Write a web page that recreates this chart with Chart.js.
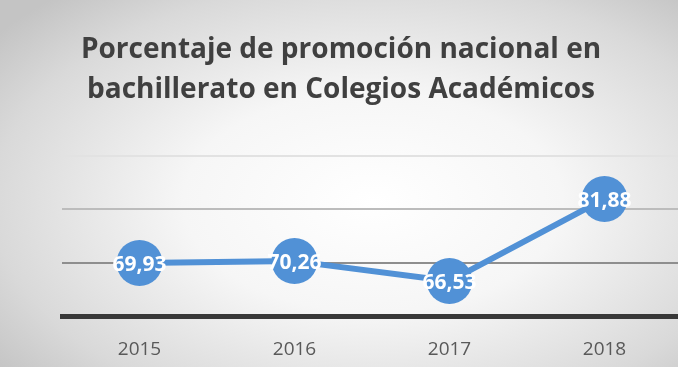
<!DOCTYPE html>
<html>
<head>
<meta charset="utf-8">
<script src="https://cdn.jsdelivr.net/npm/chart.js@4"></script>
<style>
    html, body {
        margin: 0;
        padding: 0;
        overflow: hidden;
        width: 678px;
        height: 367px;
    }
    body {
        background: radial-gradient(ellipse 70% 75% at 55% 55%, #ffffff 0%, #f6f6f6 40%, #d9d9d9 80%, #c4c4c4 100%);
    }
    #wrap {
        position: relative;
        width: 684px;
        height: 367px;
    }
</style>
</head>
<body>
<div id="wrap">
    <canvas id="promoChart"></canvas>
</div>
<script>
// Chart data
const years = ['2015', '2016', '2017', '2018'];
const promotion = [69.93, 70.26, 66.53, 81.88];
const titleLines = ['Porcentaje de promoción nacional en', 'bachillerato en Colegios Académicos'];

const blue = '#5191d6';

// White value labels drawn on top of each marker
const valueLabels = {
    id: 'valueLabels',
    afterDatasetsDraw(chart) {
        const ctx = chart.ctx;
        const meta = chart.getDatasetMeta(0);
        ctx.save();
        ctx.fillStyle = '#ffffff';
        ctx.font = 'bold 21px "Open Sans", sans-serif';
        ctx.textAlign = 'center';
        ctx.textBaseline = 'middle';
        meta.data.forEach((pt, i) => {
            const txt = promotion[i].toFixed(2).replace('.', ',');
            ctx.fillText(txt, pt.x, pt.y + 2);
        });
        ctx.restore();
    }
};

function gridColor(ctx) {
    const v = ctx.tick ? ctx.tick.value : null;
    if (v === 90) return '#e2e2e2';
    if (v === 80) return '#bcbcbc';
    if (v === 70) return '#8e8e8e';
    return 'rgba(0,0,0,0)';
}

new Chart(document.getElementById('promoChart'), {
    type: 'line',
    data: {
        labels: years,
        datasets: [{
            data: promotion,
            borderColor: blue,
            backgroundColor: blue,
            borderWidth: 6,
            borderCapStyle: 'round',
            borderJoinStyle: 'round',
            tension: 0,
            pointRadius: 23,
            pointHoverRadius: 23,
            pointBackgroundColor: blue,
            pointBorderWidth: 0
        }]
    },
    options: {
        responsive: true,
        maintainAspectRatio: false,
        animation: false,
        layout: {
            autoPadding: false,
            padding: { left: 0, right: 2, top: 0, bottom: 0 }
        },
        plugins: {
            legend: { display: false },
            tooltip: { enabled: false },
            title: {
                display: true,
                text: titleLines,
                color: '#404040',
                font: { family: '"Open Sans", sans-serif', size: 28, weight: 'bold', lineHeight: 1.42 },
                padding: { top: 30, bottom: 46 }
            }
        },
        scales: {
            x: {
                offset: true,
                grid: { display: false, drawTicks: false },
                border: { display: true, color: '#383838', width: 5 },
                ticks: {
                    color: '#595959',
                    padding: 22,
                    font: { family: '"Open Sans", sans-serif', size: 19 }
                },
                afterFit(scale) {
                    scale.height = 51;
                }
            },
            y: {
                min: 60,
                max: 90,
                ticks: { stepSize: 10, display: false },
                grid: { color: gridColor, lineWidth: 2, drawTicks: false },
                border: { display: false },
                afterFit(scale) {
                    scale.width = 62;
                }
            }
        }
    },
    plugins: [valueLabels]
});
</script>
</body>
</html>
